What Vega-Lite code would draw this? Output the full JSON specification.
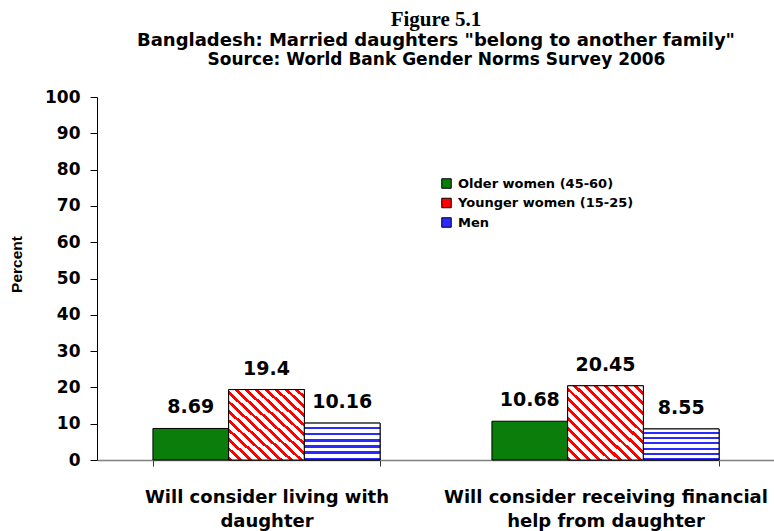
{
  "$schema": "https://vega.github.io/schema/vega-lite/v6.json",
  "autosize": "none",
  "width": 678,
  "height": 363,
  "padding": {"left": 97, "top": 97, "right": 0, "bottom": 71},
  "background": "white",
  "title": {
    "text": "Figure 5.1",
    "subtitle": "Bangladesh: Married daughters \"belong to another family\"",
    "font": "Liberation Serif",
    "fontSize": 21,
    "fontWeight": "bold",
    "color": "black",
    "subtitleFont": "DejaVu Sans",
    "subtitleFontSize": 18,
    "subtitleFontWeight": "bold",
    "subtitleColor": "black",
    "subtitlePadding": 2,
    "anchor": "middle",
    "frame": "group",
    "offset": 0
  },
  "data": {
    "values": [
      {"q": "Will consider living with daughter", "group": "Older women (45-60)", "pct": 8.69},
      {"q": "Will consider living with daughter", "group": "Younger women (15-25)", "pct": 19.4},
      {"q": "Will consider living with daughter", "group": "Men", "pct": 10.16},
      {"q": "Will consider receiving financial help from daughter", "group": "Older women (45-60)", "pct": 10.68},
      {"q": "Will consider receiving financial help from daughter", "group": "Younger women (15-25)", "pct": 20.45},
      {"q": "Will consider receiving financial help from daughter", "group": "Men", "pct": 8.55}
    ]
  },
  "encoding": {
    "x": {"field": "q", "type": "nominal", "sort": null,
      "scale": {"paddingInner": 0.33, "paddingOuter": 0.165}, "axis": null},
    "xOffset": {"field": "group", "type": "nominal",
      "sort": ["Older women (45-60)", "Younger women (15-25)", "Men"],
      "scale": {"domain": ["Older women (45-60)", "Younger women (15-25)", "Men"], "paddingInner": 0, "paddingOuter": 0}},
    "y": {"field": "pct", "type": "quantitative",
      "scale": {"domain": [0, 100], "nice": false},
      "axis": {
        "title": "Percent", "titleFont": "Liberation Sans", "titleFontSize": 15.5, "titleFontWeight": "bold", "titleColor": "black", "titlePadding": 20,
        "titleY": 167,
        "values": [0, 10, 20, 30, 40, 50, 60, 70, 80, 90, 100],
        "labelFont": "DejaVu Sans", "labelFontSize": 17, "labelFontWeight": "bold", "labelColor": "black", "labelPadding": 10,
        "labelOverlap": false,
        "grid": false, "tickSize": 7, "tickColor": "black", "domainColor": "black"
      }
    }
  },
  "layer": [
    {
      "mark": {"type": "bar", "stroke": "black", "strokeWidth": 1},
      "encoding": {
        "x": {"field": "q", "type": "nominal", "sort": null,
          "scale": {"paddingInner": 0.33, "paddingOuter": 0.165},
          "axis": {
            "orient": "bottom", "title": null, "labelAngle": 0,
            "labelFont": "DejaVu Sans", "labelFontSize": 18, "labelFontWeight": "bold", "labelColor": "black",
            "labelExpr": "datum.value == 'Will consider living with daughter' ? ['Will consider living with', 'daughter'] : datum.value == 'Will consider receiving financial help from daughter' ? ['Will consider receiving financial', 'help from daughter'] : ''",
            "labelLineHeight": 24, "labelPadding": 22, "labelLimit": 400,
            "tickBand": "extent", "tickSize": 6, "tickColor": "#333333",
            "domainColor": "#808080", "domainWidth": 1.5
          }
        },
        "fill": {"field": "group", "type": "nominal",
          "sort": ["Older women (45-60)", "Younger women (15-25)", "Men"],
          "scale": {"domain": ["Older women (45-60)", "Younger women (15-25)", "Men"],
            "range": ["#0a7d0a", "#ff0000", "#2a2aff"]},
          "legend": {
            "title": null, "orient": "none", "legendX": 343, "legendY": 80,
            "labelFont": "DejaVu Sans", "labelFontSize": 13, "labelFontWeight": "bold", "labelColor": "black", "labelLimit": 300,
            "symbolType": "square", "symbolSize": 90, "symbolStrokeColor": "black", "symbolStrokeWidth": 1, "symbolOpacity": 1,
            "rowPadding": 4.5, "labelOffset": 5
          }
        }
      }
    },
    {
      "transform": [{"filter": "datum.group == 'Younger women (15-25)'"}],
      "mark": {"type": "bar", "stroke": "black", "strokeWidth": 1,
        "fill": {"gradient": "linear", "x1": 0, "y1": 1, "x2": 1, "y2": 0, "stops": [
          {"offset": 0.0, "color": "#ff0000"}, {"offset": 0.027, "color": "#ff0000"}, {"offset": 0.027, "color": "#ffffff"}, {"offset": 0.067, "color": "#ffffff"},
          {"offset": 0.067, "color": "#ff0000"}, {"offset": 0.093, "color": "#ff0000"}, {"offset": 0.093, "color": "#ffffff"}, {"offset": 0.133, "color": "#ffffff"},
          {"offset": 0.133, "color": "#ff0000"}, {"offset": 0.16, "color": "#ff0000"}, {"offset": 0.16, "color": "#ffffff"}, {"offset": 0.2, "color": "#ffffff"},
          {"offset": 0.2, "color": "#ff0000"}, {"offset": 0.227, "color": "#ff0000"}, {"offset": 0.227, "color": "#ffffff"}, {"offset": 0.267, "color": "#ffffff"},
          {"offset": 0.267, "color": "#ff0000"}, {"offset": 0.293, "color": "#ff0000"}, {"offset": 0.293, "color": "#ffffff"}, {"offset": 0.333, "color": "#ffffff"},
          {"offset": 0.333, "color": "#ff0000"}, {"offset": 0.36, "color": "#ff0000"}, {"offset": 0.36, "color": "#ffffff"}, {"offset": 0.4, "color": "#ffffff"},
          {"offset": 0.4, "color": "#ff0000"}, {"offset": 0.427, "color": "#ff0000"}, {"offset": 0.427, "color": "#ffffff"}, {"offset": 0.467, "color": "#ffffff"},
          {"offset": 0.467, "color": "#ff0000"}, {"offset": 0.493, "color": "#ff0000"}, {"offset": 0.493, "color": "#ffffff"}, {"offset": 0.533, "color": "#ffffff"},
          {"offset": 0.533, "color": "#ff0000"}, {"offset": 0.56, "color": "#ff0000"}, {"offset": 0.56, "color": "#ffffff"}, {"offset": 0.6, "color": "#ffffff"},
          {"offset": 0.6, "color": "#ff0000"}, {"offset": 0.627, "color": "#ff0000"}, {"offset": 0.627, "color": "#ffffff"}, {"offset": 0.667, "color": "#ffffff"},
          {"offset": 0.667, "color": "#ff0000"}, {"offset": 0.693, "color": "#ff0000"}, {"offset": 0.693, "color": "#ffffff"}, {"offset": 0.733, "color": "#ffffff"},
          {"offset": 0.733, "color": "#ff0000"}, {"offset": 0.76, "color": "#ff0000"}, {"offset": 0.76, "color": "#ffffff"}, {"offset": 0.8, "color": "#ffffff"},
          {"offset": 0.8, "color": "#ff0000"}, {"offset": 0.827, "color": "#ff0000"}, {"offset": 0.827, "color": "#ffffff"}, {"offset": 0.867, "color": "#ffffff"},
          {"offset": 0.867, "color": "#ff0000"}, {"offset": 0.893, "color": "#ff0000"}, {"offset": 0.893, "color": "#ffffff"}, {"offset": 0.933, "color": "#ffffff"},
          {"offset": 0.933, "color": "#ff0000"}, {"offset": 0.96, "color": "#ff0000"}, {"offset": 0.96, "color": "#ffffff"}, {"offset": 1.0, "color": "#ffffff"}
        ]}
      },
      "encoding": {}
    },
    {
      "transform": [{"filter": "datum.group == 'Men'"}],
      "mark": {"type": "bar", "stroke": "black", "strokeWidth": 1,
        "fill": {"gradient": "linear", "x1": 0, "y1": 0, "x2": 0, "y2": 1, "stops": [
          {"offset": 0.0, "color": "#ffffff"}, {"offset": 0.1, "color": "#ffffff"}, {"offset": 0.1, "color": "#2a2aff"}, {"offset": 0.167, "color": "#2a2aff"},
          {"offset": 0.167, "color": "#ffffff"}, {"offset": 0.267, "color": "#ffffff"}, {"offset": 0.267, "color": "#2a2aff"}, {"offset": 0.333, "color": "#2a2aff"},
          {"offset": 0.333, "color": "#ffffff"}, {"offset": 0.433, "color": "#ffffff"}, {"offset": 0.433, "color": "#2a2aff"}, {"offset": 0.5, "color": "#2a2aff"},
          {"offset": 0.5, "color": "#ffffff"}, {"offset": 0.6, "color": "#ffffff"}, {"offset": 0.6, "color": "#2a2aff"}, {"offset": 0.667, "color": "#2a2aff"},
          {"offset": 0.667, "color": "#ffffff"}, {"offset": 0.767, "color": "#ffffff"}, {"offset": 0.767, "color": "#2a2aff"}, {"offset": 0.833, "color": "#2a2aff"},
          {"offset": 0.833, "color": "#ffffff"}, {"offset": 0.933, "color": "#ffffff"}, {"offset": 0.933, "color": "#2a2aff"}, {"offset": 1.0, "color": "#2a2aff"}
        ]}
      },
      "encoding": {}
    },
    {
      "mark": {"type": "text", "font": "DejaVu Sans", "fontSize": 19, "fontWeight": "bold", "color": "black", "baseline": "middle", "dy": -21},
      "encoding": {
        "x": {"field": "q", "type": "nominal", "sort": null,
          "scale": {"paddingInner": 0.33, "paddingOuter": 0.165},
          "axis": {
            "orient": "top", "title": "Source: World Bank Gender Norms Survey 2006",
            "titleFont": "DejaVu Sans", "titleFontSize": 17, "titleFontWeight": "bold", "titleColor": "black",
            "titlePadding": 29, "labels": false, "ticks": false, "domain": false
          }
        },
        "text": {"field": "pct", "type": "quantitative"}
      }
    }
  ],
  "resolve": {"axis": {"x": "independent"}},
  "config": {
    "view": {"stroke": null}
  }
}
